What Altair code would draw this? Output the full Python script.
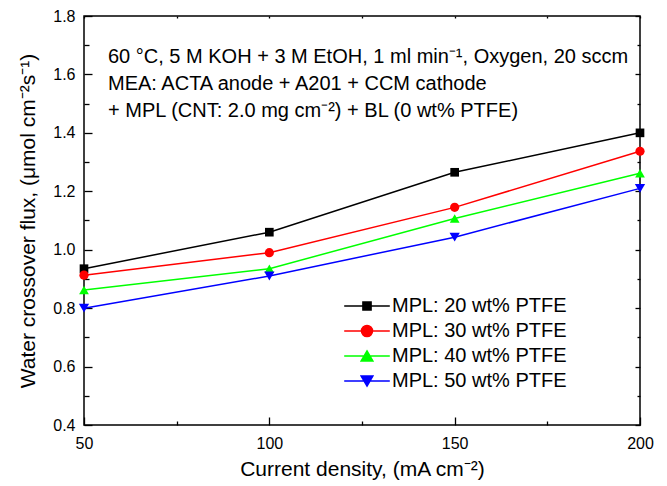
import altair as alt
import pandas as pd

# ---- data ----
current = [50, 100, 150, 200]
series_names = ["MPL: 20 wt% PTFE", "MPL: 30 wt% PTFE", "MPL: 40 wt% PTFE", "MPL: 50 wt% PTFE"]
flux_20 = [0.935, 1.060, 1.265, 1.400]
flux_30 = [0.913, 0.990, 1.145, 1.337]
flux_40 = [0.862, 0.935, 1.107, 1.262]
flux_50 = [0.800, 0.910, 1.043, 1.210]

x_major = [50, 100, 150, 200]
x_minor = [75, 125, 175]
y_major = [0.4, 0.6, 0.8, 1.0, 1.2, 1.4, 1.6, 1.8]
y_minor = [0.5, 0.7, 0.9, 1.1, 1.3, 1.5, 1.7]

note_lines = [
    "60 \u00b0C, 5 M KOH + 3 M EtOH, 1 ml min\u207b\u00b9, Oxygen, 20 sccm",
    "MEA: ACTA anode + A201 + CCM cathode",
    "+ MPL (CNT: 2.0 mg cm\u207b\u00b2) + BL (0 wt% PTFE)",
]
x_title = "Current density, (mA cm\u207b\u00b2)"
y_title = "Water crossover flux, (\u03bcmol cm\u207b\u00b2s\u207b\u00b9)"

# ---- styling ----
colors = ["#000000", "#ff0000", "#00ff00", "#0000ff"]
shapes = ["square", "circle", "triangle-up", "triangle-down"]
sizes = [75, 105, 144, 144]
legend_shapes = [
    "M-3.8,0H3.8M-0.68,-0.68H0.68V0.68H-0.68Z",
    "M-3.8,0H3.8M-0.92,0A0.92,0.92,0,1,0,0.92,0A0.92,0.92,0,1,0,-0.92,0Z",
    "M-3.8,0H3.8M0,-0.85L0.98,0.85L-0.98,0.85Z",
    "M-3.8,0H3.8M0,0.85L0.98,-0.85L-0.98,-0.85Z",
]
FONT = "Liberation Sans"

rows = []
for name, vals in zip(series_names, [flux_20, flux_30, flux_40, flux_50]):
    for c, v in zip(current, vals):
        rows.append({"current": c, "flux": v, "series": name})
df = pd.DataFrame(rows)

xs = alt.Scale(domain=[50, 200], nice=False, zero=False)
ys = alt.Scale(domain=[0.4, 1.8], nice=False, zero=False)

base = alt.Chart(df)


def tick_layer(xvals, yvals, x_orient, y_orient, xsize, ysize):
    xa = alt.Axis(orient=x_orient, values=xvals, labels=False, domain=False, grid=False,
                  ticks=True, tickSize=xsize, offset=-xsize, tickColor="black",
                  tickWidth=1.3, title=None)
    ya = alt.Axis(orient=y_orient, values=yvals, labels=False, domain=False, grid=False,
                  ticks=True, tickSize=ysize, offset=-ysize, tickColor="black",
                  tickWidth=1.3, title=None)
    return base.mark_point(opacity=0).encode(
        x=alt.X("current:Q", scale=xs, axis=xa),
        y=alt.Y("flux:Q", scale=ys, axis=ya),
    )


t1 = tick_layer(x_major, y_major, "bottom", "left", 8, 8)
t2 = tick_layer(x_minor, y_minor, "bottom", "left", 4, 5)
t3 = tick_layer(x_major, y_major, "top", "right", 2, 5)
t4 = tick_layer(x_minor, y_minor, "top", "right", 2, 3)

lines = base.mark_line(strokeWidth=1.5).encode(
    x=alt.X("current:Q", scale=xs,
            axis=alt.Axis(values=x_major, tickSize=0, ticks=False, domain=False, grid=False,
                          labelFontSize=16, labelFont=FONT, labelColor="black",
                          labelPadding=10, labelFlush=False,
                          title=x_title, titleFontSize=21, titleFont=FONT,
                          titleFontWeight="normal", titleColor="black", titlePadding=7)),
    y=alt.Y("flux:Q", scale=ys,
            axis=alt.Axis(values=y_major, format=".1f", tickSize=0, ticks=False, domain=False,
                          grid=False, labelFontSize=16, labelFont=FONT, labelColor="black",
                          labelPadding=9, labelFlush=False,
                          title=y_title, titleFontSize=21, titleFont=FONT,
                          titleFontWeight="normal", titleColor="black", titlePadding=14)),
    color=alt.Color("series:N", scale=alt.Scale(domain=series_names, range=colors), legend=None),
)

points = base.mark_point(filled=True, opacity=1).encode(
    x=alt.X("current:Q", scale=xs, axis=None),
    y=alt.Y("flux:Q", scale=ys, axis=None),
    color=alt.Color("series:N", scale=alt.Scale(domain=series_names, range=colors), legend=None),
    shape=alt.Shape("series:N", scale=alt.Scale(domain=series_names, range=shapes), legend=None),
    size=alt.Size("series:N", scale=alt.Scale(domain=series_names, range=sizes), legend=None),
)

leg = alt.Legend(title=None, orient="none", legendX=259, legendY=280, symbolSize=144,
                 symbolStrokeWidth=1.5, symbolOffset=14, labelOffset=15, labelLimit=0,
                 labelFontSize=20, labelFont=FONT, labelColor="black",
                 symbolOpacity=1, rowPadding=5, padding=0)

legend_layer = base.mark_point(filled=True, strokeWidth=1.5, opacity=1).transform_filter("false").encode(
    shape=alt.Shape("series:N", scale=alt.Scale(domain=series_names, range=legend_shapes), legend=leg),
    fill=alt.Fill("series:N", scale=alt.Scale(domain=series_names, range=colors), legend=leg),
    stroke=alt.Stroke("series:N", scale=alt.Scale(domain=series_names, range=colors), legend=leg),
)

chart = alt.layer(t1, t2, t3, t4, lines, points, legend_layer).resolve_scale(
    x="independent", y="independent", color="independent", shape="independent",
    size="independent", fill="independent", stroke="independent",
).properties(
    width=556, height=409,
    autosize=alt.AutoSizeParams(type="none"),
    padding={"left": 84, "top": 16, "right": 27, "bottom": 61},
    background="white",
    title=alt.Title(text=note_lines, anchor="start", orient="top", baseline="top",
                    frame="group", dx=24, dy=113, fontSize=20, font=FONT,
                    fontWeight="normal", lineHeight=27, color="black", offset=0),
).configure_view(stroke="black", strokeWidth=1.5)

chart.save("out.html", embed_options={"renderer": "svg", "actions": False})
